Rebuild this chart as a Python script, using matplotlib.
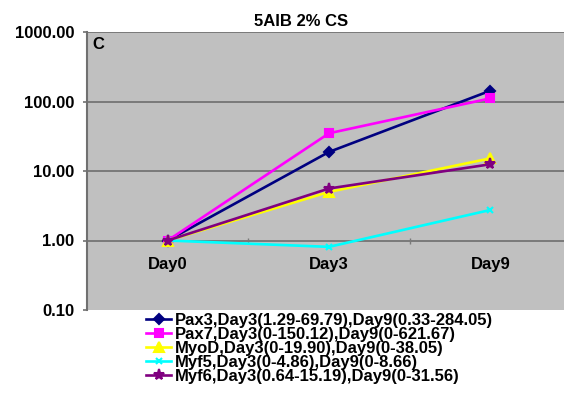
import matplotlib.pyplot as plt
from matplotlib.ticker import FixedLocator, FuncFormatter

plt.rcParams['font.family'] = ['Liberation Sans', 'DejaVu Sans']
plt.rcParams['font.weight'] = 'bold'

days = ['Day0', 'Day3', 'Day9']
pax3 = [1.0, 18.8, 143.0]
pax7 = [1.0, 34.9, 111.0]
myod = [1.0, 5.0, 15.2]
myf5 = [1.0, 0.81, 2.75]
myf6 = [1.0, 5.6, 12.5]

labels = ['Pax3,Day3(1.29-69.79),Day9(0.33-284.05)',
          'Pax7,Day3(0-150.12),Day9(0-621.67)',
          'MyoD,Day3(0-19.90),Day9(0-38.05)',
          'Myf5,Day3(0-4.86),Day9(0-8.66)',
          'Myf6,Day3(0.64-15.19),Day9(0-31.56)']
colors = ['#000080', '#FF00FF', '#FFFF00', '#00FFFF', '#800080']
markers = ['D', 's', '^', 'x', '*']
sizes = [5, 6, 7, 5, 8]

fig = plt.figure(figsize=(5.64, 3.97), dpi=100)
W, H = 564, 397
# plot area runs a little past the right edge of the figure
ax = fig.add_axes([87 / W, 1 - 310 / H, (571 - 87) / W, 278 / H])
ax.set_facecolor('#C0C0C0')

x = range(len(days))
handles = []
for vals, c, m, ms, lab in zip([pax3, pax7, myod, myf5, myf6], colors, markers, sizes, labels):
    h, = ax.plot(x, vals, color=c, lw=1.9, marker=m, ms=ms, mec=c, mfc=c, mew=1.5, label=lab)
    handles.append(h)

ax.set_yscale('log')
ax.set_ylim(0.1, 1000)
ax.set_xlim(-0.5, 2.5)

ax.yaxis.set_major_locator(FixedLocator([0.1, 1, 10, 100, 1000]))
ax.yaxis.set_minor_locator(FixedLocator([]))
ax.yaxis.set_major_formatter(FuncFormatter(lambda v, p: '%.2f' % v))
ax.tick_params(axis='y', length=3, width=1.2, color='#707070', pad=6, labelsize=12)

for yv in [10, 100, 1000]:
    ax.axhline(yv, color='#7a7a7a', lw=1.4, zorder=1)

# category axis crosses the value axis at 1
ax.spines['bottom'].set_position(('data', 1))
ax.spines['bottom'].set_color('#7a7a7a')
ax.spines['bottom'].set_linewidth(1.4)
ax.spines['bottom'].set_zorder(1)
ax.set_xticks(list(x))
ax.set_xticklabels(days)
ax.set_xticks([0.5, 1.5], minor=True)
ax.tick_params(axis='x', which='major', length=0, pad=12, labelsize=12)
ax.tick_params(axis='x', which='minor', length=5, width=1, color='#7a7a7a', direction='inout')

ax.spines['left'].set_color('#707070')
ax.spines['left'].set_linewidth(1.5)
ax.spines['top'].set_visible(False)
ax.spines['right'].set_visible(False)

ax.text(0.012, 0.955, 'C', transform=ax.transAxes, fontsize=12, fontweight='bold', va='center', ha='left')

fig.text(301 / W, 1 - 21 / H, '5AIB 2% CS', fontsize=12, fontweight='bold', ha='center', va='center')

fig.legend(handles=handles, loc='upper left', bbox_to_anchor=(146 / W, 1 - 312.5 / H),
           frameon=False, fontsize=12, handlelength=1.5, handletextpad=0.25,
           labelspacing=-0.05, borderpad=0, borderaxespad=0)

fig.savefig('out.png', dpi=100)
